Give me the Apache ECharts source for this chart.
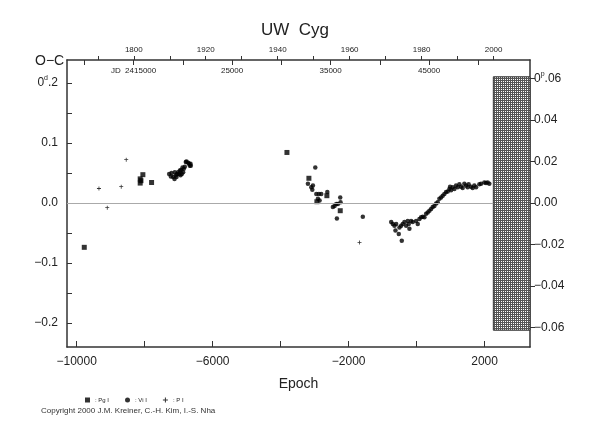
<!DOCTYPE html>
<html>
<head>
<meta charset="utf-8">
<script src="https://cdn.jsdelivr.net/npm/echarts@6/dist/echarts.min.js"></script>
<style>
html, body { margin: 0; padding: 0; background: #fff; }
#chart { width: 590px; height: 425px; }
</style>
</head>
<body>
<div id="chart"></div>
<script>
// O-C diagram data [epoch, O-C in days]
var pgData = [
    [-9777, -0.074], [-8132, 0.033], [-8132, 0.040], [-8053, 0.047], [-8110, 0.037],
    [-7797, 0.034], [-3815, 0.084], [-3169, 0.041], [-2934, 0.002], [-2247, -0.013],
    [-2640, 0.012]
];
var viData = [
    [-7280, 0.048], [-7210, 0.050], [-7230, 0.044], [-7163, 0.043], [-7122, 0.040],
    [-7084, 0.046], [-7045, 0.048], [-7016, 0.051], [-6966, 0.054], [-6987, 0.048],
    [-6928, 0.055], [-6887, 0.059], [-6849, 0.057], [-6869, 0.051], [-6907, 0.048],
    [-6819, 0.060], [-6790, 0.068], [-6722, 0.067], [-6673, 0.062], [-6652, 0.065],
    [-7113, 0.051], [-7063, 0.043], [-6946, 0.046], [-6770, 0.069], [-6693, 0.065],
    [-6643, 0.062],
    [-2981, 0.059], [-3198, 0.032], [-3098, 0.026], [-3069, 0.022], [-3051, 0.029],
    [-2951, 0.015], [-2875, 0.015], [-2805, 0.015], [-2904, 0.007], [-2855, 0.004],
    [-2628, 0.018], [-2464, -0.007], [-2414, -0.005], [-2364, -0.002], [-2317, -0.002],
    [-2247, 0.009], [-2238, 0.001], [-2346, -0.026], [-1583, -0.023],
    [-748, -0.032], [-701, -0.035], [-652, -0.038], [-602, -0.035], [-622, -0.046],
    [-525, -0.052], [-437, -0.063], [-505, -0.041], [-455, -0.038], [-408, -0.035],
    [-358, -0.032], [-309, -0.038], [-261, -0.030], [-232, -0.035], [-212, -0.043],
    [-162, -0.030], [-115, -0.032], [-15, -0.030], [33, -0.035], [82, -0.027],
    [132, -0.024], [180, -0.023], [229, -0.024], [279, -0.018], [326, -0.016],
    [376, -0.013], [426, -0.010], [473, -0.007], [523, -0.005], [573, -0.001],
    [620, 0.001], [670, 0.007], [719, 0.009], [767, 0.012], [817, 0.015],
    [866, 0.018], [915, 0.019], [963, 0.023], [984, 0.027], [1013, 0.021],
    [1061, 0.026], [1110, 0.023], [1160, 0.029], [1207, 0.026], [1257, 0.031],
    [1307, 0.027], [1354, 0.025], [1404, 0.032], [1454, 0.029], [1501, 0.026],
    [1531, 0.031], [1600, 0.027], [1648, 0.025], [1698, 0.029], [1748, 0.026],
    [1845, 0.031], [1895, 0.032], [1992, 0.034], [2041, 0.033], [2089, 0.034],
    [2139, 0.032]
];
var pData = [
    [-9345, 0.024], [-9101, -0.008], [-8690, 0.027], [-8543, 0.072], [-1680, -0.066]
];

// axes
var epochLabels = [-10000, -6000, -2000, 2000];
var epochTicks = [-10000, -8000, -6000, -4000, -2000, 0, 2000];
var yearTicks = [1890, 1900, 1910, 1920, 1930, 1940, 1950, 1960, 1970, 1980, 1990, 2000];
var yearLabelValues = [1900, 1920, 1940, 1960, 1980, 2000];
var yearLabels = ['1800', '1920', '1940', '1960', '1980', '2000'];
var jdTicks = [2410000, 2415000, 2420000, 2425000, 2430000, 2435000, 2440000, 2445000, 2450000];
var jdLabelValues = [2415000, 2425000, 2435000, 2445000];
var jdLabels = ['JD  2415000', '25000', '35000', '45000'];
var ocTicks = [-0.2, -0.1, 0, 0.1, 0.2];
var ocMinorTicks = [-0.2, -0.15, -0.1, -0.05, 0, 0.05, 0.1, 0.15, 0.2];
var phaseTicks = [-0.06, -0.04, -0.02, 0, 0.02, 0.04, 0.06];

var T0 = 2443733, P = 3.4508;     // ephemeris
var eMin = -10285, eMax = 3335;
var ocMin = -0.24, ocMax = 0.238;
var hatchFrom = 2256;

function jdOf(e) { return T0 + P * e; }
function yearOf(e) { return 1900 + (jdOf(e) - 2415020) / 365.25; }
function minus(s) { return s.replace('-', '\u2212'); }

// hatch pattern
var cv = document.createElement('canvas');
cv.width = 2; cv.height = 2;
var g = cv.getContext('2d');
g.fillStyle = '#555555'; g.fillRect(0, 0, 2, 2);
g.fillStyle = '#ffffff'; g.fillRect(1, 1, 1, 1);

var font = 'Liberation Sans, Arial, sans-serif';
var axisCol = '#333';

var myChart = echarts.init(document.getElementById('chart'));
var option = {
    animation: false,
    title: {
        text: 'UW  Cyg', left: 'center', top: 17,
        textStyle: { fontFamily: font, fontSize: 17, fontWeight: 'normal', color: '#222' }
    },
    legend: {
        left: 80, top: 392, itemWidth: 5, itemHeight: 5, itemGap: 16,
        data: [
            { name: 'Pg I', icon: 'rect' },
            { name: 'Vi I', icon: 'circle' },
            { name: 'P I', icon: 'path://M2,0H3V2H5V3H3V5H2V3H0V2H2Z' }
        ],
        formatter: ': {name}',
        textStyle: { fontFamily: font, fontSize: 6, color: '#222' }
    },
    grid: { left: 67, top: 60, right: 60, bottom: 78 },
    xAxis: [
        {
            type: 'value', position: 'bottom', min: eMin, max: eMax,
            name: 'Epoch', nameLocation: 'middle', nameGap: 30,
            nameTextStyle: { fontFamily: font, fontSize: 14, color: '#222' },
            splitLine: { show: false },
            axisLine: { onZero: false, lineStyle: { color: axisCol, width: 1.5 } },
            axisTick: { inside: true, length: 6, customValues: epochTicks, lineStyle: { color: axisCol } },
            axisLabel: {
                customValues: epochLabels, margin: 9, fontFamily: font, fontSize: 12, color: '#222',
                formatter: function (v) { return minus(String(v)); }
            }
        },
        {
            type: 'value', position: 'top', min: yearOf(eMin), max: yearOf(eMax),
            splitLine: { show: false },
            axisLine: { onZero: false, lineStyle: { color: axisCol, width: 1.5 } },
            axisTick: { inside: false, length: 4, customValues: yearTicks, lineStyle: { color: axisCol } },
            axisLabel: {
                customValues: yearLabelValues, margin: 6, fontFamily: font, fontSize: 8, color: '#222',
                formatter: function (v) { return yearLabels[yearLabelValues.indexOf(Math.round(v))]; }
            }
        },
        {
            type: 'value', position: 'top', min: jdOf(eMin), max: jdOf(eMax),
            splitLine: { show: false },
            axisLine: { show: false, onZero: false },
            axisTick: { inside: true, length: 5, customValues: jdTicks, lineStyle: { color: axisCol } },
            axisLabel: {
                inside: true, customValues: jdLabelValues, margin: 7, fontFamily: font, fontSize: 8, color: '#222',
                formatter: function (v) { return jdLabels[jdLabelValues.indexOf(Math.round(v))]; }
            }
        }
    ],
    yAxis: [
        {
            type: 'value', position: 'left', min: ocMin, max: ocMax,
            splitLine: { show: false },
            axisLine: { show: true, onZero: false, lineStyle: { color: axisCol, width: 1.5 } },
            axisTick: { show: true, inside: true, length: 5, customValues: ocMinorTicks, lineStyle: { color: axisCol } },
            axisLabel: {
                customValues: ocTicks, margin: 9, fontFamily: font, fontSize: 12, color: '#222',
                formatter: function (v) {
                    if (Math.abs(v - 0.2) < 1e-6) return '0{s|d}.2';
                    return minus(v.toFixed(1));
                },
                rich: { s: { fontSize: 7, fontFamily: font, color: '#222', padding: [0, 0, 9, 0] } }
            }
        },
        {
            type: 'value', position: 'right', min: ocMin / P, max: ocMax / P,
            splitLine: { show: false },
            axisLine: { show: true, onZero: false, lineStyle: { color: axisCol, width: 1.5 } },
            axisTick: { show: true, inside: false, length: 5, customValues: phaseTicks, lineStyle: { color: axisCol } },
            axisLabel: {
                customValues: phaseTicks, margin: 4, fontFamily: font, fontSize: 12, color: '#222',
                formatter: function (v) {
                    if (Math.abs(v - 0.06) < 1e-6) return '0{s|p}.06';
                    return minus(v.toFixed(2));
                },
                rich: { s: { fontSize: 7, fontFamily: font, color: '#222', padding: [0, 0, 9, 0] } }
            }
        }
    ],
    graphic: [
        { type: 'text', left: 35, top: 54, style: { text: 'O\u2212C', font: '14px ' + font, fill: '#222' } },
        { type: 'text', left: 41, top: 407, style: { text: 'Copyright 2000 J.M. Kreiner, C.-H. Kim, I.-S. Nha', font: '8px ' + font, fill: '#333' } }
    ],
    series: [
        {
            name: 'Pg I', type: 'scatter', data: pgData, symbol: 'rect', symbolSize: 5,
            itemStyle: { color: '#000' }
        },
        {
            name: 'Vi I', type: 'scatter', data: viData, symbol: 'circle', symbolSize: 4.5,
            itemStyle: { color: '#000' },
            markLine: {
                silent: true, symbol: 'none', label: { show: false },
                lineStyle: { color: '#aaa', width: 1.2, type: 'solid' },
                data: [[{ coord: [eMin, 0] }, { coord: [hatchFrom, 0] }]]
            },
            markArea: {
                silent: true,
                itemStyle: { color: { image: cv, repeat: 'repeat' }, borderColor: '#333', borderWidth: 1 },
                data: [[{ coord: [hatchFrom, 0.21] }, { coord: [eMax, -0.212] }]]
            }
        },
        {
            name: 'P I', type: 'scatter', data: pData,
            symbol: 'path://M2,0H3V2H5V3H3V5H2V3H0V2H2Z', symbolSize: 4,
            itemStyle: { color: '#000' }
        }
    ]
};
myChart.setOption(option);
</script>
</body>
</html>
